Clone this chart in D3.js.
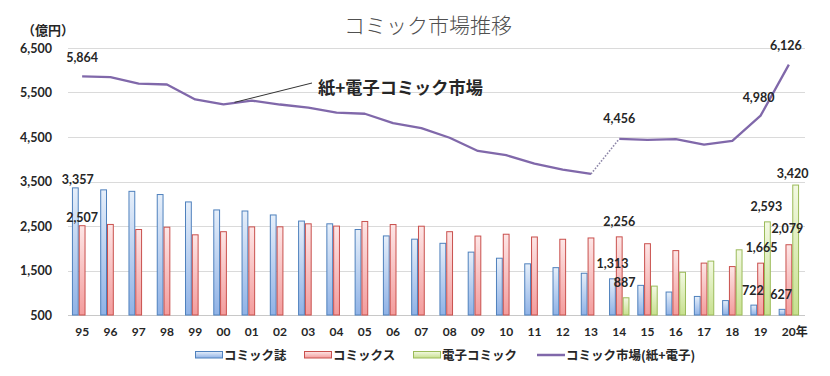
<!DOCTYPE html>
<html>
<head>
<meta charset="utf-8">
<script src="https://cdn.jsdelivr.net/npm/d3@7/dist/d3.min.js"></script>
<style>
  html, body { margin: 0; padding: 0; background: #fff; }
  svg { display: block; }
</style>
</head>
<body>
<svg id="chart" width="830" height="376"></svg>
<script>
// ---------- data ----------
const years = ["95","96","97","98","99","00","01","02","03","04","05","06","07","08","09","10","11","12","13","14","15","16","17","18","19","20"];
const tickLabels = ["95","96","97","98","99","00","01","02","03","04","05","06","07","08","09","10","11","12","13","14","15","16","17","18","19","20年"];
const comicMagazine = [3357,3312,3279,3207,3041,2861,2837,2748,2611,2549,2421,2277,2204,2111,1913,1776,1650,1564,1438,1313,1166,1016,917,824,722,627];
const comicBooks    = [2507,2535,2421,2473,2302,2372,2480,2482,2549,2498,2602,2533,2495,2372,2274,2315,2253,2202,2231,2256,2102,1947,1666,1588,1665,2079];
const digitalComic  = [null,null,null,null,null,null,null,null,null,null,null,null,null,null,null,null,null,null,null,887,1149,1460,1711,1965,2593,3420];
const marketTotal   = [5864,5847,5700,5680,5343,5233,5317,5230,5160,5047,5023,4810,4699,4483,4187,4091,3903,3766,3669,4456,4437,4454,4330,4414,4980,6126];
const yTicks = [500,1500,2500,3500,4500,5500,6500];
const seriesNames = ["コミック誌","コミックス","電子コミック","コミック市場(紙+電子)"];
const titleText = "コミック市場推移";
const unitText = "（億円）";
const annotationText = "紙+電子コミック市場";

// ---------- layout / style ----------
const svg = d3.select("#chart");
const numFont = "Lato, 'Noto Sans CJK JP', sans-serif";
const jpFont = "'Noto Sans CJK JP', sans-serif";
const textColor = "#262626";

const x = d3.scaleBand().domain(years).range([68, 803]).paddingInner(0).paddingOuter(0);
const y = d3.scaleLinear().domain([500, 6500]).range([315, 48]);
const groupW = 20.4;
const xs = d3.scaleBand().domain([0,1,2]).range([0, groupW]).padding(0);
const groupOffset = (x.bandwidth() - groupW) / 2;

const series = [
  {key: "mag", values: comicMagazine, stroke: "#4f81bd", top: "#e6effa", bottom: "#8fb2e6"},
  {key: "book", values: comicBooks, stroke: "#c9504d", top: "#fde6e6", bottom: "#f39c9c"},
  {key: "dig", values: digitalComic, stroke: "#9bbb59", top: "#f3f9e3", bottom: "#c7e08e"}
];

const defs = svg.append("defs");
series.forEach(s => {
  const g = defs.append("linearGradient").attr("id", "grad-" + s.key)
    .attr("x1", 0).attr("y1", 0).attr("x2", 0).attr("y2", 1);
  g.append("stop").attr("offset", "0%").attr("stop-color", s.top);
  g.append("stop").attr("offset", "100%").attr("stop-color", s.bottom);
});

// title
svg.append("text").attr("x", 428).attr("y", 33).attr("text-anchor", "middle")
  .attr("font-family", jpFont).attr("font-size", 21).attr("font-weight", 300)
  .attr("fill", "#505050").text(titleText);

// unit label
svg.append("text").attr("x", 22).attr("y", 35)
  .attr("font-family", jpFont).attr("font-size", 13).attr("font-weight", 700)
  .attr("fill", textColor).text(unitText);

// gridlines
svg.append("g").selectAll("line").data(yTicks).join("line")
  .attr("x1", 68).attr("x2", 805)
  .attr("y1", d => Math.round(y(d)) + 0.5).attr("y2", d => Math.round(y(d)) + 0.5)
  .attr("stroke", d => d === 500 ? "#c8c8c8" : "#dadada").attr("stroke-width", 1);

// y axis labels via d3 axis
const yAxis = svg.append("g").attr("transform", "translate(56,0)")
  .call(d3.axisLeft(y).tickValues(yTicks).tickSize(0).tickPadding(4).tickFormat(d3.format(",")));
yAxis.select(".domain").remove();
yAxis.selectAll("text").attr("font-family", numFont).attr("font-size", 12.5)
  .attr("font-weight", 700).attr("fill", textColor);

// x axis labels via d3 axis
const xAxis = svg.append("g").attr("transform", "translate(0,325)")
  .call(d3.axisBottom(x).tickSize(0).tickPadding(2).tickFormat((d, i) => tickLabels[i]));
xAxis.select(".domain").remove();
xAxis.selectAll("text").attr("font-family", numFont).attr("font-size", 12)
  .attr("font-weight", 700).attr("fill", textColor)
  .attr("text-anchor", (d, i) => i === years.length - 1 ? "start" : "middle")
  .attr("dx", (d, i) => i === years.length - 1 ? -7 : 0);

// bars
series.forEach((s, si) => {
  svg.append("g").selectAll("rect")
    .data(years.map((yr, i) => ({yr, v: s.values[i]})).filter(d => d.v != null))
    .join("rect")
    .attr("x", d => x(d.yr) + groupOffset + xs(si) + 0.5)
    .attr("y", d => y(d.v))
    .attr("width", xs.bandwidth() - 1)
    .attr("height", d => y(500) - y(d.v))
    .attr("fill", "url(#grad-" + s.key + ")")
    .attr("stroke", s.stroke).attr("stroke-width", 1);
});

// total line
const pts = years.map((yr, i) => [x(yr) + x.bandwidth() / 2, y(marketTotal[i])]);
const line = d3.line().curve(d3.curveLinear);
const lineColor = "#8068aa";
svg.append("path").attr("d", line(pts.slice(0, 19))).attr("fill", "none")
  .attr("stroke", lineColor).attr("stroke-width", 2.3).attr("stroke-linejoin", "round");
svg.append("path").attr("d", line(pts.slice(19))).attr("fill", "none")
  .attr("stroke", lineColor).attr("stroke-width", 2.3).attr("stroke-linejoin", "round");
svg.append("path").attr("d", line(pts.slice(18, 20))).attr("fill", "none")
  .attr("stroke", "#8d86a8").attr("stroke-width", 1.6).attr("stroke-dasharray", "1.6,1.6");

// annotation
svg.append("line").attr("x1", pts[5][0] + 11).attr("y1", pts[5][1] - 2).attr("x2", 312).attr("y2", 83)
  .attr("stroke", "#333").attr("stroke-width", 1);
svg.append("text").attr("x", 318).attr("y", 93.5)
  .attr("font-family", jpFont).attr("font-size", 17.2).attr("font-weight", 700)
  .attr("fill", textColor).text(annotationText);

// data labels
const fmt = d3.format(",");
const labelSpecs = [
  {arr: marketTotal, i: 0, kind: "line", dx: 0, dy: -19},
  {arr: marketTotal, i: 19, kind: "line", dx: 0, dy: -20},
  {arr: marketTotal, i: 24, kind: "line", dx: -2, dy: -18.5},
  {arr: marketTotal, i: 25, kind: "line", dx: -3, dy: -19.5},
  {arr: comicMagazine, i: 0, kind: 0, dx: 2.5, dy: -8},
  {arr: comicBooks, i: 0, kind: 1, dx: 0, dy: -8},
  {arr: comicMagazine, i: 19, kind: 0, dx: 0, dy: -15},
  {arr: comicBooks, i: 19, kind: 1, dx: 0, dy: -15},
  {arr: digitalComic, i: 19, kind: 2, dx: -1.5, dy: -15},
  {arr: comicMagazine, i: 24, kind: 0, dx: -1, dy: -15},
  {arr: comicBooks, i: 24, kind: 1, dx: 1, dy: -16},
  {arr: digitalComic, i: 24, kind: 2, dx: -1, dy: -15},
  {arr: comicMagazine, i: 25, kind: 0, dx: -1, dy: -15},
  {arr: comicBooks, i: 25, kind: 1, dx: -1.5, dy: -16},
  {arr: digitalComic, i: 25, kind: 2, dx: -3, dy: -12}
];
svg.append("g").selectAll("text").data(labelSpecs).join("text")
  .attr("x", d => {
    const yr = years[d.i];
    const cx = d.kind === "line" ? x(yr) + x.bandwidth() / 2
      : x(yr) + groupOffset + xs(d.kind) + xs.bandwidth() / 2;
    return cx + d.dx;
  })
  .attr("y", d => y(d.arr[d.i]) + d.dy + 4.5)
  .attr("text-anchor", "middle")
  .attr("font-family", numFont).attr("font-size", 12.5).attr("font-weight", 700)
  .attr("fill", textColor)
  .text(d => fmt(d.arr[d.i]));

// legend
const legend = [
  {name: seriesNames[0], type: "rect", s: series[0], x: 195},
  {name: seriesNames[1], type: "rect", s: series[1], x: 304},
  {name: seriesNames[2], type: "rect", s: series[2], x: 413},
  {name: seriesNames[3], type: "line", x: 537}
];
const lg = svg.append("g");
legend.forEach(l => {
  if (l.type === "rect") {
    lg.append("rect").attr("x", l.x + 0.5).attr("y", 351.5).attr("width", 27).attr("height", 6.5)
      .attr("fill", "url(#grad-" + l.s.key + ")").attr("stroke", l.s.stroke);
  } else {
    lg.append("line").attr("x1", l.x).attr("x2", l.x + 28).attr("y1", 355).attr("y2", 355)
      .attr("stroke", lineColor).attr("stroke-width", 2.5);
  }
  lg.append("text").attr("x", l.x + 29).attr("y", 359.5)
    .attr("font-family", jpFont).attr("font-size", 12.5).attr("font-weight", 700)
    .attr("fill", textColor).text(l.name);
});
</script>
</body>
</html>
